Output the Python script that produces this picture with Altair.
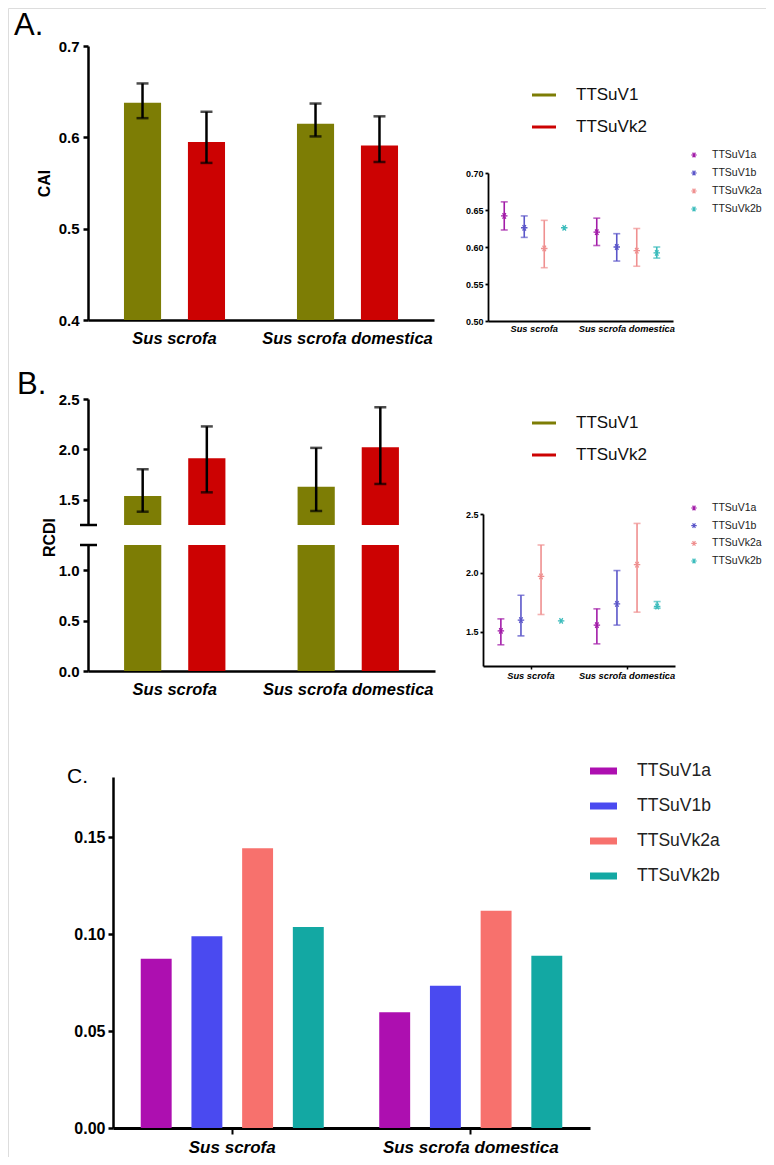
import altair as alt
import pandas as pd

# ---------------- data ----------------
categories = ["Sus scrofa", "Sus scrofa domestica"]
groups = ["TTSuV1", "TTSuVk2"]
subtypes = ["TTSuV1a", "TTSuV1b", "TTSuVk2a", "TTSuVk2b"]

# Panel A (CAI), order: category x group
cai_mean = [0.638, 0.595, 0.615, 0.591]
cai_lo = [0.621, 0.572, 0.601, 0.573]
cai_hi = [0.659, 0.628, 0.637, 0.623]
# Panel A inset, order: category x subtype
cai_sub_mean = [0.642, 0.626, 0.598, 0.626, 0.620, 0.600, 0.595, 0.592]
cai_sub_lo = [0.623, 0.613, 0.572, None, 0.602, 0.581, 0.574, 0.585]
cai_sub_hi = [0.661, 0.642, 0.636, None, 0.639, 0.618, 0.625, 0.600]

# Panel B (RCDI)
rcdi_mean = [1.538, 1.912, 1.630, 2.021]
rcdi_lo = [1.382, 1.574, 1.389, 1.657]
rcdi_hi = [1.803, 2.228, 2.015, 2.418]
# Panel B inset
rcdi_sub_mean = [1.508, 1.600, 1.970, 1.593, 1.557, 1.737, 2.070, 1.715]
rcdi_sub_lo = [1.390, 1.466, 1.647, None, 1.398, 1.557, 1.667, 1.700]
rcdi_sub_hi = [1.610, 1.810, 2.237, None, 1.695, 2.020, 2.420, 1.757]

# Panel C
c_values = [0.0873, 0.0989, 0.1443, 0.1037, 0.0597, 0.0734, 0.1120, 0.0888]

# ---------------- styles ----------------
group_colors = ["#7d7d05", "#cc0202"]
inset_colors = ["#a21ca8", "#5b56c9", "#ef9090", "#3cbcbc"]
c_colors = ["#ad0fb0", "#4a4af0", "#f7716d", "#13a8a3"]
SANS = "Liberation Sans, Arial, sans-serif"
STAR = "M-1,0L1,0M-0.5,-0.866L0.5,0.866M-0.5,0.866L0.5,-0.866"

W, H = 758, 1149  # plot area (page minus 8px margins)

# layout of every panel (plot coordinates)
XA, YA = [80, 426], [312, 38]
XAI, YAI = [480, 665], [313, 165]
XB, YBU, YBL = [80, 427], [517, 391], [663, 537]
XBI, YBI = [475, 667], [658, 506]
XC, YC = [105, 582], [1120, 769]

# ---------------- tables ----------------
dfA = pd.DataFrame({"cat": [c for c in categories for _ in groups], "grp": groups * 2,
                    "mean": cai_mean, "lo": cai_lo, "hi": cai_hi, "color": group_colors * 2})
dfB = pd.DataFrame({"cat": [c for c in categories for _ in groups], "grp": groups * 2,
                    "mean": rcdi_mean, "lo": rcdi_lo, "hi": rcdi_hi, "color": group_colors * 2})
dfAI = pd.DataFrame({"cat": [c for c in categories for _ in subtypes], "sub": subtypes * 2,
                     "mean": cai_sub_mean, "lo": cai_sub_lo, "hi": cai_sub_hi, "color": inset_colors * 2})
dfBI = pd.DataFrame({"cat": [c for c in categories for _ in subtypes], "sub": subtypes * 2,
                     "mean": rcdi_sub_mean, "lo": rcdi_sub_lo, "hi": rcdi_sub_hi, "color": inset_colors * 2})
dfC = pd.DataFrame({"cat": [c for c in categories for _ in subtypes], "sub": subtypes * 2,
                    "val": c_values, "color": c_colors * 2})
dfLegG = pd.DataFrame({"lab": groups, "color": group_colors})
dfLegI = pd.DataFrame({"lab": subtypes, "color": inset_colors})
dfLegC = pd.DataFrame({"lab": subtypes, "color": c_colors})


def xscale(rng):
    return alt.Scale(type="band", domain=categories, range=rng, paddingInner=0, paddingOuter=0)


def xaxis(ybase, size, pad, dw, tick=0, tw=1):
    d = dict(orient="bottom", offset=ybase - H, labelFont=SANS, labelFontSize=size,
             labelFontWeight="bold", labelFontStyle="italic", labelColor="black",
             labelPadding=pad, labelLimit=0, domainColor="black", domainWidth=dw, labelAngle=0,
             grid=False, title=None)
    if tick > 0:
        d.update(ticks=True, tickSize=tick, tickWidth=tw, tickColor="black")
    else:
        d.update(ticks=False)
    return alt.Axis(**d)


def yaxis(xleft, values, fmt, size, tick, dw, pad, **extra):
    d = dict(orient="left", offset=-xleft, values=values, format=fmt, labelFont=SANS,
             labelFontSize=size, labelFontWeight="bold", labelColor="black", tickSize=tick,
             tickWidth=dw, tickColor="black", domainColor="black", domainWidth=dw,
             labelPadding=pad, grid=False, title=None)
    d.update(extra)
    return alt.Axis(**d)


def color():
    return alt.Color("color:N", scale=None)


layers = []

# ======== Panel A main ========
xoffG = alt.Scale(type="band", domain=groups, paddingInner=0.42, paddingOuter=0.5625)
yA = alt.Scale(domain=[0.4, 0.7], range=YA, zero=False, nice=False)
layers.append(alt.Chart(dfA).mark_bar().encode(
    x=alt.X("cat:N", scale=xscale(XA), axis=xaxis(YA[0], 16.5, 10, 2.5)),
    xOffset=alt.XOffset("grp:N", scale=xoffG),
    y=alt.Y("mean:Q", scale=yA,
            axis=yaxis(XA[0], [0.4, 0.5, 0.6, 0.7], ".1f", 15, 5, 2.5, 4,
                       title="CAI", titleFont=SANS, titleFontSize=16, titleFontWeight="bold",
                       titleColor="black", titleX=-36, titleY=175)),
    y2=alt.datum(0.4),
    color=color()))
layers.append(alt.Chart(dfA).mark_rule(color="black", strokeWidth=2.5).encode(
    x=alt.X("cat:N", scale=xscale(XA), axis=None),
    xOffset=alt.XOffset("grp:N", scale=xoffG),
    y=alt.Y("lo:Q", scale=yA, axis=None), y2="hi:Q"))
layers.append(alt.Chart(dfA).transform_fold(["lo", "hi"], as_=["end", "v"]).mark_tick(
    color="black", thickness=2.5, size=12).encode(
    x=alt.X("cat:N", scale=xscale(XA), axis=None),
    xOffset=alt.XOffset("grp:N", scale=xoffG),
    y=alt.Y("v:Q", scale=yA, axis=None)))

# ======== Panel B main (broken axis) ========
yBU = alt.Scale(domain=[1.25, 2.5], range=YBU, zero=False, nice=False)
yBL = alt.Scale(domain=[0, 1.25], range=YBL, nice=False, clamp=True)
layers.append(alt.Chart(dfB).mark_bar().encode(
    x=alt.X("cat:N", scale=xscale(XB), axis=None),
    xOffset=alt.XOffset("grp:N", scale=xoffG),
    y=alt.Y("mean:Q", scale=yBU,
            axis=yaxis(XB[0], [1.5, 2.0, 2.5], ".1f", 15, 5, 2.5, 4)),
    y2=alt.datum(1.25),
    color=color()))
layers.append(alt.Chart(dfB).mark_bar().encode(
    x=alt.X("cat:N", scale=xscale(XB), axis=xaxis(YBL[0], 16.5, 10, 2.5)),
    xOffset=alt.XOffset("grp:N", scale=xoffG),
    y=alt.Y("mean:Q", scale=yBL,
            axis=yaxis(XB[0], [0.0, 0.5, 1.0], ".1f", 15, 5, 2.5, 4,
                       title="RCDI", titleFont=SANS, titleFontSize=16, titleFontWeight="bold",
                       titleColor="black", titleX=-31, titleY=529)),
    y2=alt.datum(0),
    color=color()))
layers.append(alt.Chart(dfB).mark_rule(color="black", strokeWidth=2.5).encode(
    x=alt.X("cat:N", scale=xscale(XB), axis=None),
    xOffset=alt.XOffset("grp:N", scale=xoffG),
    y=alt.Y("lo:Q", scale=yBU, axis=None), y2="hi:Q"))
layers.append(alt.Chart(dfB).transform_fold(["lo", "hi"], as_=["end", "v"]).mark_tick(
    color="black", thickness=2.5, size=12).encode(
    x=alt.X("cat:N", scale=xscale(XB), axis=None),
    xOffset=alt.XOffset("grp:N", scale=xoffG),
    y=alt.Y("v:Q", scale=yBU, axis=None)))
# axis break marks
for sc in (yBU, yBL):
    layers.append(alt.Chart(pd.DataFrame({"b": [1.25]})).mark_rule(color="black", strokeWidth=2.5).encode(
        x=alt.value(XB[0] - 8), x2=alt.value(XB[0] + 9),
        y=alt.Y("b:Q", scale=sc, axis=None)))


# ======== insets ========
def inset(df, xr, yr, dom, ticks, po, xtick):
    xo = alt.Scale(type="band", domain=subtypes, paddingInner=0, paddingOuter=po)
    ys = alt.Scale(domain=dom, range=yr, zero=False, nice=False)
    out = []
    out.append(alt.Chart(df).transform_filter("isValid(datum.lo)").mark_rule(strokeWidth=1.6).encode(
        x=alt.X("cat:N", scale=xscale(xr), axis=xaxis(yr[0], 9.3, 3 if xtick == 0 else 2, 1.8,
                                                         tick=xtick, tw=1.5)),
        xOffset=alt.XOffset("sub:N", scale=xo),
        y=alt.Y("lo:Q", scale=ys, axis=yaxis(xr[0], ticks, ".2f" if dom[1] < 1 else ".1f",
                                               9, 3, 1.8, 2)),
        y2="hi:Q", color=color()))
    out.append(alt.Chart(df).transform_filter("isValid(datum.lo)")
               .transform_fold(["lo", "hi"], as_=["end", "v"]).mark_tick(thickness=1.6, size=7).encode(
        x=alt.X("cat:N", scale=xscale(xr), axis=None),
        xOffset=alt.XOffset("sub:N", scale=xo),
        y=alt.Y("v:Q", scale=ys, axis=None), color=color()))
    out.append(alt.Chart(df).mark_point(shape=STAR, filled=False, size=42, strokeWidth=1.3, opacity=1).encode(
        x=alt.X("cat:N", scale=xscale(xr), axis=None),
        xOffset=alt.XOffset("sub:N", scale=xo),
        y=alt.Y("mean:Q", scale=ys, axis=None), color=color()))
    return out


layers += inset(dfAI, XAI, YAI, [0.5, 0.7], [0.5, 0.55, 0.6, 0.65, 0.7], 0.3125, 0)
layers += inset(dfBI, XBI, YBI, [1.21, 2.5], [1.5, 2.0, 2.5], 0.39, 3)

# ======== Panel C ========
xoffC = alt.Scale(type="band", domain=subtypes, paddingInner=0.39, paddingOuter=0.547)
layers.append(alt.Chart(dfC).mark_bar().encode(
    x=alt.X("cat:N", scale=xscale(XC), axis=xaxis(YC[0], 17, 5, 3, tick=6, tw=2)),
    xOffset=alt.XOffset("sub:N", scale=xoffC),
    y=alt.Y("val:Q", scale=alt.Scale(domain=[0, 0.181], range=YC, nice=False),
            axis=yaxis(XC[0], [0.0, 0.05, 0.10, 0.15], ".2f", 16, 5, 2.5, 3)),
    color=color()))


# ======== legends ========
def legend_lines(df, yr):
    ys = alt.Scale(type="point", domain=list(df["lab"]), range=yr, padding=0)
    return [
        alt.Chart(df).mark_rule(strokeWidth=3).encode(
            x=alt.value(524), x2=alt.value(548), y=alt.Y("lab:N", scale=ys, axis=None), color=color()),
        alt.Chart(df).mark_text(align="left", baseline="middle", fontSize=17, font=SANS, color="#111").encode(
            x=alt.value(568), y=alt.Y("lab:N", scale=ys, axis=None), text="lab:N"),
    ]


def legend_stars(df, yr):
    ys = alt.Scale(type="point", domain=list(df["lab"]), range=yr, padding=0)
    return [
        alt.Chart(df).mark_point(shape=STAR, filled=False, size=30, strokeWidth=1.2, opacity=1).encode(
            x=alt.value(686), y=alt.Y("lab:N", scale=ys, axis=None), color=color()),
        alt.Chart(df).mark_text(align="left", baseline="middle", fontSize=10.5, font=SANS, color="#222").encode(
            x=alt.value(704), y=alt.Y("lab:N", scale=ys, axis=None), text="lab:N"),
    ]


layers += legend_lines(dfLegG, [87, 119])
layers += legend_lines(dfLegG, [415, 447])
layers += legend_stars(dfLegI, [147, 201])
layers += legend_stars(dfLegI, [500, 553])

ysC = alt.Scale(type="point", domain=subtypes, range=[763, 868], padding=0)
layers.append(alt.Chart(dfLegC).mark_rule(strokeWidth=7).encode(
    x=alt.value(582), x2=alt.value(609), y=alt.Y("lab:N", scale=ysC, axis=None), color=color()))
layers.append(alt.Chart(dfLegC).mark_text(align="left", baseline="middle", fontSize=17.5, font=SANS,
                                          color="#222").encode(
    x=alt.value(629), y=alt.Y("lab:N", scale=ysC, axis=None), text="lab:N"))

# ======== panel letters ========
for lab, px, py, fs in (("A.", 6, 27, 31), ("B.", 9, 386, 31), ("C.", 59, 775, 21)):
    layers.append(alt.Chart(pd.DataFrame({"t": [lab]})).mark_text(
        align="left", baseline="alphabetic", fontSize=fs, font=SANS, color="black").encode(
        x=alt.value(px), y=alt.value(py), text="t:N"))

chart = alt.layer(*layers).properties(
    width=W, height=H, padding=0, autosize=alt.AutoSizeParams(type="none")
).resolve_scale(
    x="independent", y="independent", xOffset="independent"
).resolve_axis(
    x="independent", y="independent"
).configure_view(stroke=None).configure(font=SANS)

chart.save("out.html", embed_options={"renderer": "svg", "actions": False})
